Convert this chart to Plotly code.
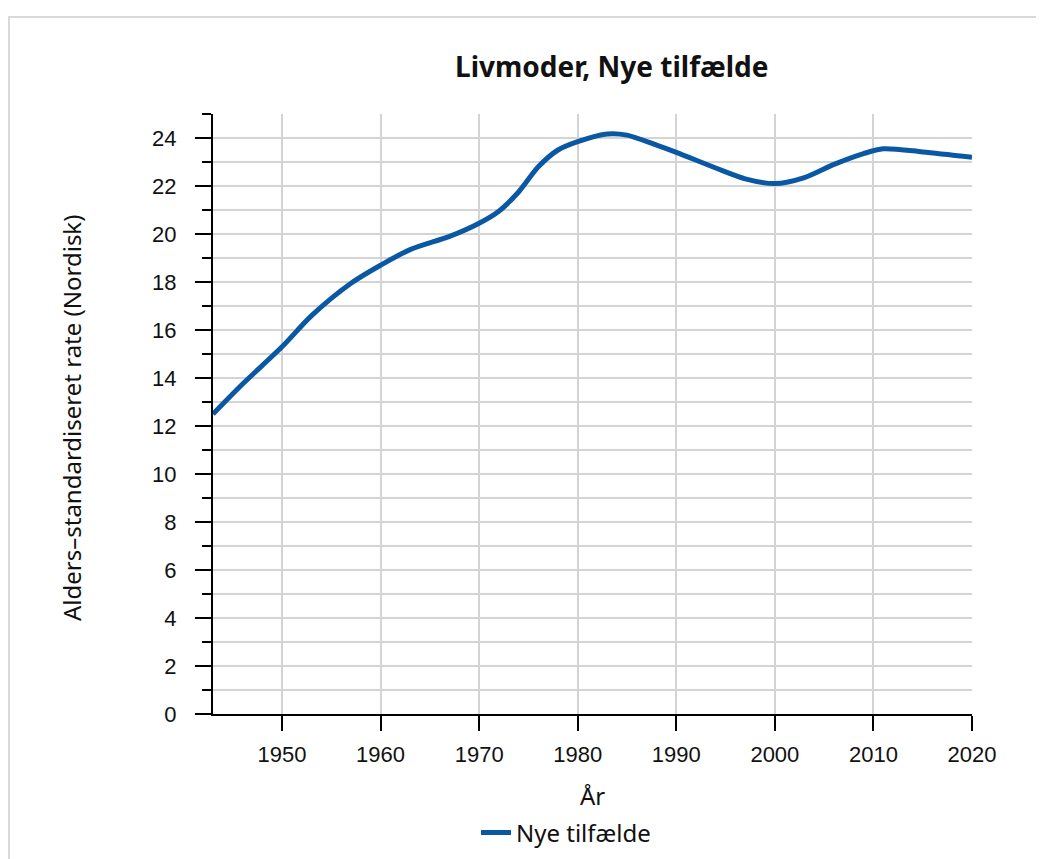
import plotly.graph_objects as go

years = [1943, 1946, 1950, 1953, 1957, 1960, 1963, 1967, 1970, 1972, 1974, 1976,
         1978, 1980, 1983, 1985, 1988, 1990, 1994, 1997, 2000, 2003, 2006, 2009, 2011,
         2015, 2020]
rates = [12.5, 13.75, 15.3, 16.6, 17.95, 18.7, 19.35, 19.9, 20.45, 20.95, 21.75, 22.8,
         23.5, 23.85, 24.17, 24.12, 23.7, 23.4, 22.75, 22.3, 22.1, 22.35, 22.9, 23.35, 23.55,
         23.42, 23.2]
series_name = "Nye tilfælde"
title_text = "Livmoder, Nye tilfælde"
x_title = "År"
y_title = "Alders–standardiseret rate (Nordisk)"
x_ticks = [1950, 1960, 1970, 1980, 1990, 2000, 2010, 2020]
y_ticks = list(range(0, 25, 2))

OFF = 8  # page body margin
W, H = 1044, 859
L, T = 213 - OFF, 114 - OFF
R = W - (972 - OFF)
B = H - (714 - OFF)
pw, ph = W - L - R, H - T - B

def px(xp):
    return (xp - OFF - L) / pw

def py(yp):
    return (H - B - (yp - OFF)) / ph

fig = go.Figure()
fig.add_trace(go.Scatter(
    x=years, y=rates, mode="lines", name=series_name,
    line=dict(color="#0a58a4", width=5, shape="spline", smoothing=0.8),
    showlegend=True,
))

grid = "#d4d4d4"
tick_font = dict(family="Liberation Sans", size=22, color="#111")
fig.update_layout(
    width=W, height=H,
    margin=dict(l=L, r=R, t=T, b=B, autoexpand=False),
    paper_bgcolor="white", plot_bgcolor="white",
    showlegend=True,
    legend=dict(orientation="h", x=px(566), xanchor="center", y=py(833), yanchor="middle",
                font=dict(family="Noto Sans", size=24, color="#111"),
                tracegroupgap=0),
    xaxis=dict(range=[1943, 2020], tickmode="array", tickvals=x_ticks,
               ticktext=[str(v) for v in x_ticks],
               showgrid=True, gridcolor=grid, gridwidth=2,
               showline=True, linecolor="black", linewidth=2,
               ticks="outside", ticklen=15, tickwidth=2, tickcolor="black",
               tickfont=tick_font, ticklabelstandoff=5,
               zeroline=False),
    yaxis=dict(range=[0, 25], tickmode="array", tickvals=y_ticks,
               showgrid=True, gridcolor=grid, gridwidth=2,
               showline=True, linecolor="black", linewidth=2,
               ticks="outside", ticklen=16, tickwidth=2, tickcolor="black",
               tickfont=tick_font, ticklabelstandoff=14,
               zeroline=False,
               minor=dict(dtick=1, tick0=0, ticks="outside", ticklen=9, tickwidth=2,
                          tickcolor="black", showgrid=True, gridcolor=grid, gridwidth=2)),
    shapes=[dict(type="rect", xref="paper", yref="paper",
                 x0=px(OFF + 1), x1=px(1070), y0=py(890), y1=py(17),
                 line=dict(color="#d9d9d9", width=2), fillcolor="rgba(0,0,0,0)", layer="below")],
    annotations=[
        dict(text=f"<b>{title_text}</b>", xref="paper", yref="paper", x=px(611), y=py(66),
             xanchor="center", yanchor="middle", showarrow=False,
             font=dict(family="Noto Sans", size=28, color="#111")),
        dict(text=x_title, xref="paper", yref="paper", x=px(592), y=py(795),
             xanchor="center", yanchor="middle", showarrow=False,
             font=dict(family="Noto Sans", size=24, color="#111")),
        dict(text=y_title, xref="paper", yref="paper", x=px(72), y=py(418),
             xanchor="center", yanchor="middle", showarrow=False, textangle=-90,
             font=dict(family="Noto Sans", size=24, color="#111")),
    ],
)

fig.write_html("out.html")
